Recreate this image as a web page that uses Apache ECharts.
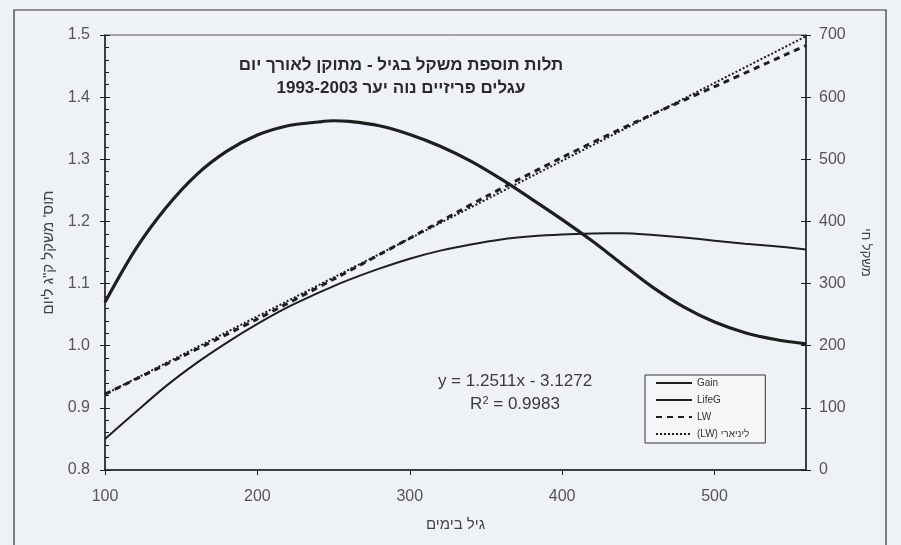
<!DOCTYPE html>
<html>
<head>
<meta charset="utf-8">
<script src="https://cdn.jsdelivr.net/npm/echarts@6/dist/echarts.min.js"></script>
<style>
  html, body { margin: 0; padding: 0; background: #eef1f5; }
  #chart { width: 901px; height: 545px; }
</style>
</head>
<body>
<div id="chart"></div>
<script>
// age in days (x), shared by Gain and LifeG
const ageDays = [100, 120, 140, 160, 180, 200, 220, 240, 250, 260, 280, 300, 320, 340, 360, 380, 400, 420, 440, 460, 480, 500, 520, 540, 560];
// daily gain, kg/day (left axis)
const gainVals = [1.070, 1.155, 1.222, 1.275, 1.313, 1.339, 1.354, 1.360, 1.362, 1.361, 1.354, 1.340, 1.321, 1.297, 1.268, 1.236, 1.203, 1.168, 1.130, 1.093, 1.062, 1.038, 1.021, 1.010, 1.003];
// lifetime gain, kg/day (left axis)
const lifeGVals = [0.850, 0.893, 0.935, 0.972, 1.005, 1.035, 1.062, 1.085, 1.096, 1.106, 1.124, 1.140, 1.153, 1.163, 1.171, 1.176, 1.179, 1.1805, 1.181, 1.178, 1.174, 1.169, 1.164, 1.160, 1.155];
// live weight, kg (right axis)
const lwAge = [100, 150, 200, 250, 300, 350, 400, 450, 500, 560];
const lwVals = [122, 182, 243, 307, 373, 440, 503, 562, 617, 683];
// linear trend of LW (end points)
const trendAge = [100, 560];
const trendVals = [122, 698];

const leftTicks = { min: 0.8, max: 1.5, step: 0.1 };
const rightTicks = { min: 0, max: 700, step: 100 };
const xTicks = { min: 100, max: 560, step: 100 };

const titleLines = ['תלות תוספת משקל בגיל - מתוקן לאורך יום', 'עגלים פריזיים נוה יער 1993-2003'];
const seriesNames = ['Gain', 'LifeG', 'LW', '(LW) ליניארי'];
const xName = 'גיל בימים';
const leftName = 'תוס\' משקל ק"ג ליום';
const rightName = 'משקל חי';
const eqText = 'y = 1.2511x - 3.1272';
const r2Text = '0.9983';

const FONT = '"Liberation Sans", Arial, "DejaVu Sans", sans-serif';
const INK = '#1e1e1e';
const LABEL = '#555';

function pairs(xs, ys) {
  return xs.map((x, i) => [x, ys[i]]);
}

// extra axes only used to draw the outer half of the crossing ticks
function tickOnlyAxis(position, scale, inside) {
  return {
    type: 'value', position: position,
    min: scale.min, max: scale.max, interval: scale.step,
    axisLine: { show: false },
    axisTick: { show: true, inside: inside, length: 5, lineStyle: { color: INK } },
    axisLabel: { show: false },
    splitLine: { show: false }
  };
}

const chart = echarts.init(document.getElementById('chart'), null, { renderer: 'canvas' });

chart.setOption({
  backgroundColor: '#eef1f5',
  animation: false,
  textStyle: { fontFamily: FONT },
  title: {
    text: titleLines.join('\n'),
    left: 396,
    top: 49,
    textAlign: 'center',
    textStyle: { fontSize: 17, fontWeight: 'bold', color: '#2a2a2a', lineHeight: 23, fontFamily: FONT }
  },
  grid: {
    left: 105, right: 95, top: 35, bottom: 75,
    show: true, borderColor: '#555', borderWidth: 1, backgroundColor: 'transparent'
  },
  legend: {
    orient: 'vertical',
    left: 645,
    top: 375,
    itemWidth: 36,
    itemHeight: 10,
    itemGap: 7,
    padding: [3, 16, 4, 10],
    borderColor: '#333',
    borderWidth: 1,
    backgroundColor: '#f4f6f8',
    itemStyle: { opacity: 0 },
    textStyle: { fontSize: 10, color: '#333', fontFamily: FONT },
    data: seriesNames
  },
  xAxis: {
    type: 'value',
    min: xTicks.min, max: xTicks.max, interval: xTicks.step,
    name: xName,
    nameLocation: 'middle',
    nameGap: 47,
    nameTextStyle: { fontSize: 15, color: '#444', fontFamily: FONT },
    axisLine: { lineStyle: { color: INK, width: 1.5 } },
    axisTick: { show: true, length: 5, lineStyle: { color: INK } },
    axisLabel: { fontSize: 16, color: LABEL, margin: 19, showMaxLabel: false, fontFamily: FONT },
    splitLine: { show: false }
  },
  yAxis: [
    {
      type: 'value',
      position: 'left',
      min: leftTicks.min, max: leftTicks.max, interval: leftTicks.step,
      name: leftName,
      nameLocation: 'middle',
      nameRotate: 90,
      nameGap: 45,
      nameTextStyle: { fontSize: 15, color: '#444', fontFamily: FONT },
      axisLine: { show: true, lineStyle: { color: INK, width: 1.5 } },
      axisTick: { show: true, inside: true, length: 5, lineStyle: { color: INK } },
      minorTick: { show: true, splitNumber: 5, length: 4, lineStyle: { color: INK } },
      axisLabel: { fontSize: 16, color: LABEL, margin: 15, fontFamily: FONT,
        formatter: v => v.toFixed(1) },
      splitLine: { show: false }
    },
    {
      type: 'value',
      position: 'right',
      min: rightTicks.min, max: rightTicks.max, interval: rightTicks.step,
      name: rightName,
      nameLocation: 'middle',
      nameRotate: -90,
      nameGap: 53,
      nameTextStyle: { fontSize: 13, color: '#444', fontFamily: FONT },
      axisLine: { show: true, lineStyle: { color: INK, width: 1.5 } },
      axisTick: { show: true, length: 5, lineStyle: { color: INK } },
      axisLabel: { fontSize: 16, color: LABEL, margin: 13, fontFamily: FONT },
      splitLine: { show: false }
    },
    tickOnlyAxis('left', leftTicks, false),
    tickOnlyAxis('right', rightTicks, true)
  ],
  graphic: [
    {
      type: 'rect',
      shape: { x: 14, y: 10, width: 872, height: 560 },
      style: { fill: 'none', stroke: '#333', lineWidth: 1.2 },
      silent: true, z: -1
    },
    {
      type: 'text',
      x: 515, y: 381,
      style: { text: eqText, font: '17px ' + FONT, fill: '#3a3a3a', textAlign: 'center', textVerticalAlign: 'middle' }
    },
    {
      type: 'text',
      x: 515, y: 404,
      style: {
        text: 'R{sup|2} = ' + r2Text,
        font: '17px ' + FONT, fill: '#3a3a3a', textAlign: 'center', textVerticalAlign: 'middle',
        rich: { sup: { fontSize: 11, verticalAlign: 'top', padding: [0, 0, 7, 0], fontFamily: FONT, fill: '#3a3a3a' } }
      }
    }
  ],
  series: [
    {
      name: seriesNames[0], type: 'line', yAxisIndex: 0,
      data: pairs(ageDays, gainVals),
      smooth: 0.3, symbol: 'none',
      lineStyle: { color: INK, width: 3.2 }, itemStyle: { color: INK }
    },
    {
      name: seriesNames[1], type: 'line', yAxisIndex: 0,
      data: pairs(ageDays, lifeGVals),
      smooth: 0.3, symbol: 'none',
      lineStyle: { color: INK, width: 2 }, itemStyle: { color: INK }
    },
    {
      name: seriesNames[2], type: 'line', yAxisIndex: 1,
      data: pairs(lwAge, lwVals),
      smooth: 0.3, symbol: 'none',
      lineStyle: { color: INK, width: 3, type: [6, 5] }, itemStyle: { color: INK }
    },
    {
      name: seriesNames[3], type: 'line', yAxisIndex: 1,
      data: pairs(trendAge, trendVals),
      symbol: 'none',
      lineStyle: { color: INK, width: 2, type: [2, 2] }, itemStyle: { color: INK }
    }
  ]
});
</script>
</body>
</html>
